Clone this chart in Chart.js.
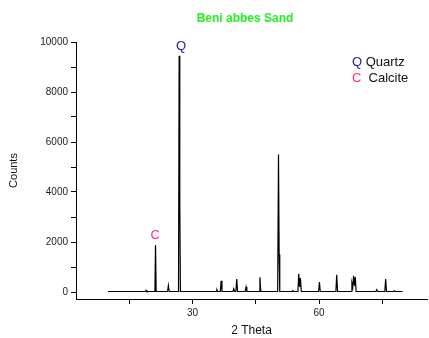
<!DOCTYPE html>
<html>
<head>
<meta charset="utf-8">
<script src="https://cdn.jsdelivr.net/npm/chart.js@4/dist/chart.umd.min.js"></script>
<style>
  body { margin: 0; background: #fff; }
  canvas { display: block; }
</style>
</head>
<body>
<canvas id="xrd" width="429" height="338"></canvas>
<script>
// Beni abbes Sand - difractograma
const twoTheta = [
  10.0, 18.8, 19.0, 19.2, 21.1, 21.25, 21.4, 24.1, 24.3, 24.5,
  26.7, 26.85, 27.0, 27.15, 35.6, 35.8, 36.0, 36.6, 36.8, 37.0,
  39.6, 39.8, 40.0, 40.3, 40.5, 40.7, 42.5, 42.7, 42.9, 45.8,
  46.0, 46.2, 50.2, 50.4, 50.55, 50.7, 53.6, 53.8, 54.0, 55.0,
  55.2, 55.4, 55.6, 55.8, 59.9, 60.1, 60.3, 64.0, 64.2, 64.4,
  67.6, 67.8, 68.0, 68.2, 68.4, 68.6, 68.8, 73.5, 73.7, 73.9,
  75.6, 75.8, 76.0, 77.7, 77.9, 78.1, 79.8
];
const counts = [
  20, 20, 70, 20, 20, 1880, 20, 20, 260, 20,
  20, 9450, 3600, 20, 20, 90, 20, 20, 450, 20,
  20, 130, 20, 20, 520, 20, 20, 200, 20, 20,
  590, 20, 20, 5500, 1500, 20, 20, 50, 20, 20,
  730, 200, 560, 20, 20, 400, 20, 20, 690, 20,
  20, 360, 200, 650, 250, 600, 20, 20, 90, 20,
  20, 520, 20, 20, 50, 20, 20
];

const xTicks = [15, 30, 45, 60, 75];
const xLabeled = [30, 60];
const yTicks = [0, 1000, 2000, 3000, 4000, 5000, 6000, 7000, 8000, 9000, 10000];
const yLabeled = [0, 2000, 4000, 6000, 8000, 10000];

// letras sobre los picos
const peakLetters = ['Q', 'C'];
const peakLetterX = [27.3, 21.2];
const peakLetterY = [9840, 2250];
const peakColors = ['#22229a', '#ff2a8c'];

const legendNames = ['Quartz', 'Calcite'];
const legendGaps = [' ', '  '];

const anotaciones = {
  id: 'anotaciones',
  afterDraw(chart) {
    const ctx = chart.ctx;
    const xs = chart.scales.x, ys = chart.scales.y;
    ctx.save();
    // titulo
    ctx.font = 'bold 12px "Liberation Sans", Arial, sans-serif';
    ctx.fillStyle = '#22ee22';
    ctx.textAlign = 'center';
    ctx.textBaseline = 'alphabetic';
    ctx.fillText('Beni abbes Sand', 245, 22);

    // letras de picos
    ctx.font = '13px "Liberation Sans", Arial, sans-serif';
    ctx.textBaseline = 'middle';
    peakLetters.forEach((l, i) => {
      ctx.fillStyle = peakColors[i];
      ctx.fillText(l, xs.getPixelForValue(peakLetterX[i]), ys.getPixelForValue(peakLetterY[i]));
    });

    // leyenda
    ctx.textAlign = 'left';
    ctx.textBaseline = 'alphabetic';
    legendNames.forEach((name, i) => {
      const x = 352, y = 66 + i * 15.7;
      ctx.fillStyle = peakColors[i];
      ctx.fillText(peakLetters[i], x, y);
      const w = ctx.measureText(peakLetters[i] + legendGaps[i]).width;
      ctx.fillStyle = '#111';
      ctx.fillText(name, x + w, y);
    });
    ctx.restore();
  }
};

new Chart(document.getElementById('xrd'), {
  type: 'line',
  data: {
    datasets: [{
      data: twoTheta.map((t, i) => ({ x: t, y: counts[i] })),
      borderColor: '#000',
      borderWidth: 1.2,
      pointRadius: 0,
      tension: 0,
      fill: false
    }]
  },
  options: {
    responsive: false,
    animation: false,
    layout: { padding: { top: 42, right: 2, left: 0, bottom: 0 } },
    plugins: {
      legend: { display: false },
      tooltip: { enabled: false },
      title: { display: false }
    },
    scales: {
      x: {
        type: 'linear',
        min: 2.4,
        max: 85.6,
        afterBuildTicks: s => { s.ticks = xTicks.map(v => ({ value: v })); },
        afterFit: s => { s.height = 39; },
        ticks: {
          autoSkip: false,
          maxRotation: 0,
          padding: 3,
          color: '#222',
          font: { family: '"Liberation Sans", Arial, sans-serif', size: 10 },
          callback: v => xLabeled.includes(v) ? String(v) : ''
        },
        grid: { drawOnChartArea: false, drawTicks: true, tickLength: 5, color: '#000' },
        border: { display: true, color: '#000', width: 1 },
        title: {
          display: true,
          text: '2 Theta',
          color: '#111',
          padding: 0,
          font: { family: '"Liberation Sans", Arial, sans-serif', size: 12 }
        }
      },
      y: {
        type: 'linear',
        min: -280,
        max: 10000,
        afterBuildTicks: s => { s.ticks = yTicks.map(v => ({ value: v })); },
        afterFit: s => { s.width = 76; },
        ticks: {
          autoSkip: false,
          padding: 3,
          color: '#222',
          font: { family: '"Liberation Sans", Arial, sans-serif', size: 10 },
          callback: v => yLabeled.includes(v) ? String(v) : ''
        },
        grid: { drawOnChartArea: false, drawTicks: true, tickLength: 5, color: '#000' },
        border: { display: true, color: '#000', width: 1 },
        title: {
          display: true,
          text: 'Counts',
          color: '#111',
          padding: 7,
          font: { family: '"Liberation Sans", Arial, sans-serif', size: 11 }
        }
      }
    }
  },
  plugins: [anotaciones]
});
</script>
</body>
</html>
